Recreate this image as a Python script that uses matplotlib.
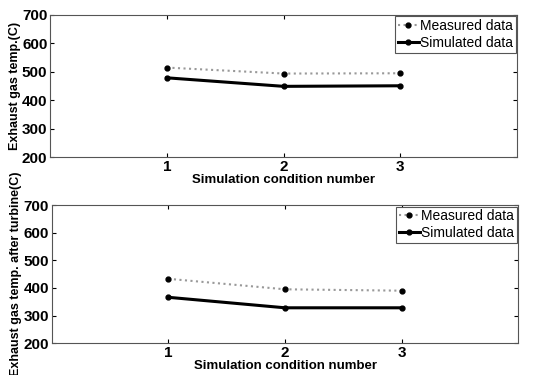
import numpy as np
import matplotlib
matplotlib.use("Agg")
import matplotlib.pyplot as plt

plt.rcParams['font.family'] = ['Liberation Sans', 'DejaVu Sans']

# data
cond = [1, 2, 3]
exh_measured = [515, 494, 495]
exh_simulated = [479, 449, 451]
turb_measured = [433, 395, 390]
turb_simulated = [366, 328, 328]

ylabels = ['Exhaust gas temp.(C)', 'Exhaust gas temp. after turbine(C)']
xlabel = 'Simulation condition number'

fig = plt.figure(figsize=(5.46, 3.75), dpi=100)
ax1 = fig.add_axes([0.092, 0.581, 0.855, 0.379])
ax2 = fig.add_axes([0.095, 0.085, 0.854, 0.368])

panels = [(ax1, exh_measured, exh_simulated, ylabels[0]),
          (ax2, turb_measured, turb_simulated, ylabels[1])]

for ax, meas, sim, ylab in panels:
    ax.plot(cond, meas, ':', color='#999999', linewidth=1.5,
            marker='o', markersize=3.5, markerfacecolor='black',
            markeredgecolor='black', label='Measured data')
    ax.plot(cond, sim, '-', color='black', linewidth=2.2,
            marker='o', markersize=3.5, label='Simulated data')
    ax.set_xlim(0, 4)
    ax.set_ylim(200, 700)
    ax.set_xticks([1, 2, 3])
    ax.set_yticks(np.arange(200, 701, 100))
    ax.tick_params(direction='in', top=True, right=True, length=3,
                   labelsize=11, pad=2)
    for lab in ax.get_xticklabels() + ax.get_yticklabels():
        lab.set_fontweight('bold')
    ax.set_xlabel(xlabel, fontsize=9.5, fontweight='bold', labelpad=0)
    ax.set_ylabel(ylab, fontsize=9, fontweight='bold', labelpad=1)
    for sp in ax.spines.values():
        sp.set_color('#555555')
        sp.set_linewidth(0.8)
    leg = ax.legend(loc='upper right', fontsize=10, handlelength=1.5,
                    handletextpad=0.1, borderpad=0.2, labelspacing=0.2,
                    borderaxespad=0.1, fancybox=False, framealpha=1)
    leg.get_frame().set_edgecolor('#555555')
    leg.get_frame().set_linewidth(0.8)

plt.savefig('out.png', dpi=100)
